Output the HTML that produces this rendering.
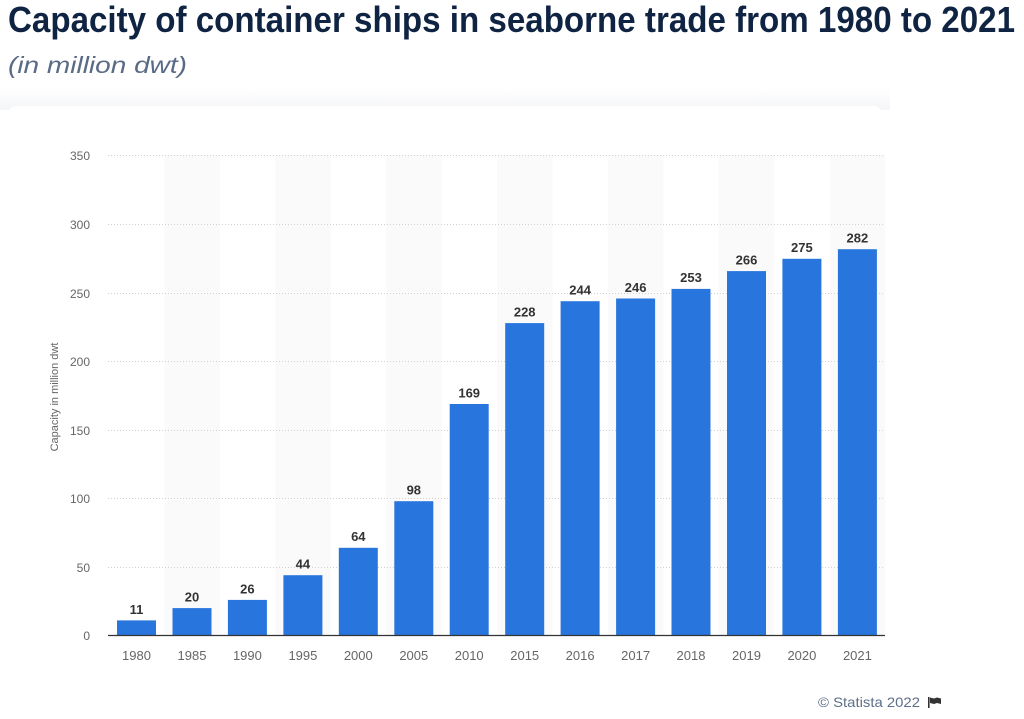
<!DOCTYPE html>
<html><head><meta charset="utf-8"><style>
html,body{margin:0;padding:0;background:#fff;}
svg{display:block;}
</style></head><body>
<svg width="1024" height="719" viewBox="0 0 1024 719" xmlns="http://www.w3.org/2000/svg">
<defs>
<linearGradient id="sh" x1="0" y1="0" x2="0" y2="1">
<stop offset="0" stop-color="#ffffff"/>
<stop offset="1" stop-color="#f4f5f7"/>
</linearGradient>
</defs>
<rect x="0" y="0" width="1024" height="719" fill="#fff"/>
<rect x="0" y="88" width="890" height="22" fill="url(#sh)"/>
<rect x="8" y="106" width="874" height="620" rx="8" fill="#fff"/>
<text x="8" y="32" font-family="Liberation Sans, sans-serif" font-weight="bold" font-size="36" fill="#0f2342" textLength="1007" lengthAdjust="spacingAndGlyphs">Capacity of container ships in seaborne trade from 1980 to 2021</text>
<text x="8" y="73" font-family="Liberation Sans, sans-serif" font-style="italic" font-size="23" fill="#5a6b86" textLength="179" lengthAdjust="spacingAndGlyphs">(in million dwt)</text>
<g fill="#fafafa">
<rect x="164.3" y="155" width="55.45" height="480.5"/>
<rect x="275.2" y="155" width="55.45" height="480.5"/>
<rect x="386.1" y="155" width="55.45" height="480.5"/>
<rect x="497.0" y="155" width="55.45" height="480.5"/>
<rect x="607.9" y="155" width="55.45" height="480.5"/>
<rect x="718.8" y="155" width="55.45" height="480.5"/>
<rect x="829.7" y="155" width="55.45" height="480.5"/>
</g>
<g stroke="#d0d0d0" stroke-width="1" stroke-dasharray="1,2">
<line x1="108" x2="885" y1="155.5" y2="155.5"/>
<line x1="108" x2="885" y1="224.5" y2="224.5"/>
<line x1="108" x2="885" y1="293.5" y2="293.5"/>
<line x1="108" x2="885" y1="361.5" y2="361.5"/>
<line x1="108" x2="885" y1="430.5" y2="430.5"/>
<line x1="108" x2="885" y1="498.5" y2="498.5"/>
<line x1="108" x2="885" y1="567.5" y2="567.5"/>
</g>
<g font-family="Liberation Sans, sans-serif" font-size="12" fill="#666" text-anchor="end">
<text x="90" y="160">350</text>
<text x="90" y="229">300</text>
<text x="90" y="298">250</text>
<text x="90" y="366">200</text>
<text x="90" y="435">150</text>
<text x="90" y="503">100</text>
<text x="90" y="572">50</text>
<text x="90" y="640">0</text>
</g>
<text transform="translate(58,397) rotate(-90)" font-family="Liberation Sans, sans-serif" font-size="11" fill="#666" text-anchor="middle">Capacity in million dwt</text>
<g fill="#2876dd">
<rect x="117" y="620.4" width="39" height="15.1"/>
<rect x="172.5" y="608.1" width="39" height="27.4"/>
<rect x="227.9" y="599.9" width="39" height="35.6"/>
<rect x="283.4" y="575.2" width="39" height="60.3"/>
<rect x="338.8" y="547.8" width="39" height="87.7"/>
<rect x="394.3" y="501.2" width="39" height="134.3"/>
<rect x="449.7" y="404.0" width="39" height="231.5"/>
<rect x="505.2" y="323.1" width="39" height="312.4"/>
<rect x="560.6" y="301.2" width="39" height="334.3"/>
<rect x="616.1" y="298.5" width="39" height="337.0"/>
<rect x="671.5" y="288.9" width="39" height="346.6"/>
<rect x="727.0" y="271.1" width="39" height="364.4"/>
<rect x="782.4" y="258.8" width="39" height="376.7"/>
<rect x="837.9" y="249.2" width="39" height="386.3"/>
</g>
<line x1="108" x2="885" y1="635.5" y2="635.5" stroke="#333" stroke-width="1.2"/>
<g font-family="Liberation Sans, sans-serif" font-size="13" font-weight="bold" fill="#333" text-anchor="middle">
<text x="136.5" y="614">11</text>
<text x="192" y="601.5">20</text>
<text x="247.4" y="593.5">26</text>
<text x="302.9" y="568.5">44</text>
<text x="358.3" y="541">64</text>
<text x="413.8" y="494.5">98</text>
<text x="469.2" y="397.5">169</text>
<text x="524.7" y="316.5">228</text>
<text x="580.1" y="294.5">244</text>
<text x="635.6" y="292">246</text>
<text x="691" y="282">253</text>
<text x="746.5" y="264.5">266</text>
<text x="801.9" y="252">275</text>
<text x="857.4" y="242.5">282</text>
</g>
<g font-family="Liberation Sans, sans-serif" font-size="13" fill="#666" text-anchor="middle">
<text x="136.5" y="660">1980</text>
<text x="192" y="660">1985</text>
<text x="247.4" y="660">1990</text>
<text x="302.9" y="660">1995</text>
<text x="358.3" y="660">2000</text>
<text x="413.8" y="660">2005</text>
<text x="469.2" y="660">2010</text>
<text x="524.7" y="660">2015</text>
<text x="580.1" y="660">2016</text>
<text x="635.6" y="660">2017</text>
<text x="691" y="660">2018</text>
<text x="746.5" y="660">2019</text>
<text x="801.9" y="660">2020</text>
<text x="857.4" y="660">2021</text>
</g>
<text x="818" y="707" font-family="Liberation Sans, sans-serif" font-size="14" fill="#5d6f89" textLength="102" lengthAdjust="spacingAndGlyphs">© Statista 2022</text>
<g fill="#333">
<rect x="928" y="697" width="1.6" height="11"/>
<path d="M930 697.5 L934 698.5 L937 697.5 L941 698.5 L941 704 L937 703 L934 704 L930 703 Z"/>
</g>
</svg>
</body></html>
